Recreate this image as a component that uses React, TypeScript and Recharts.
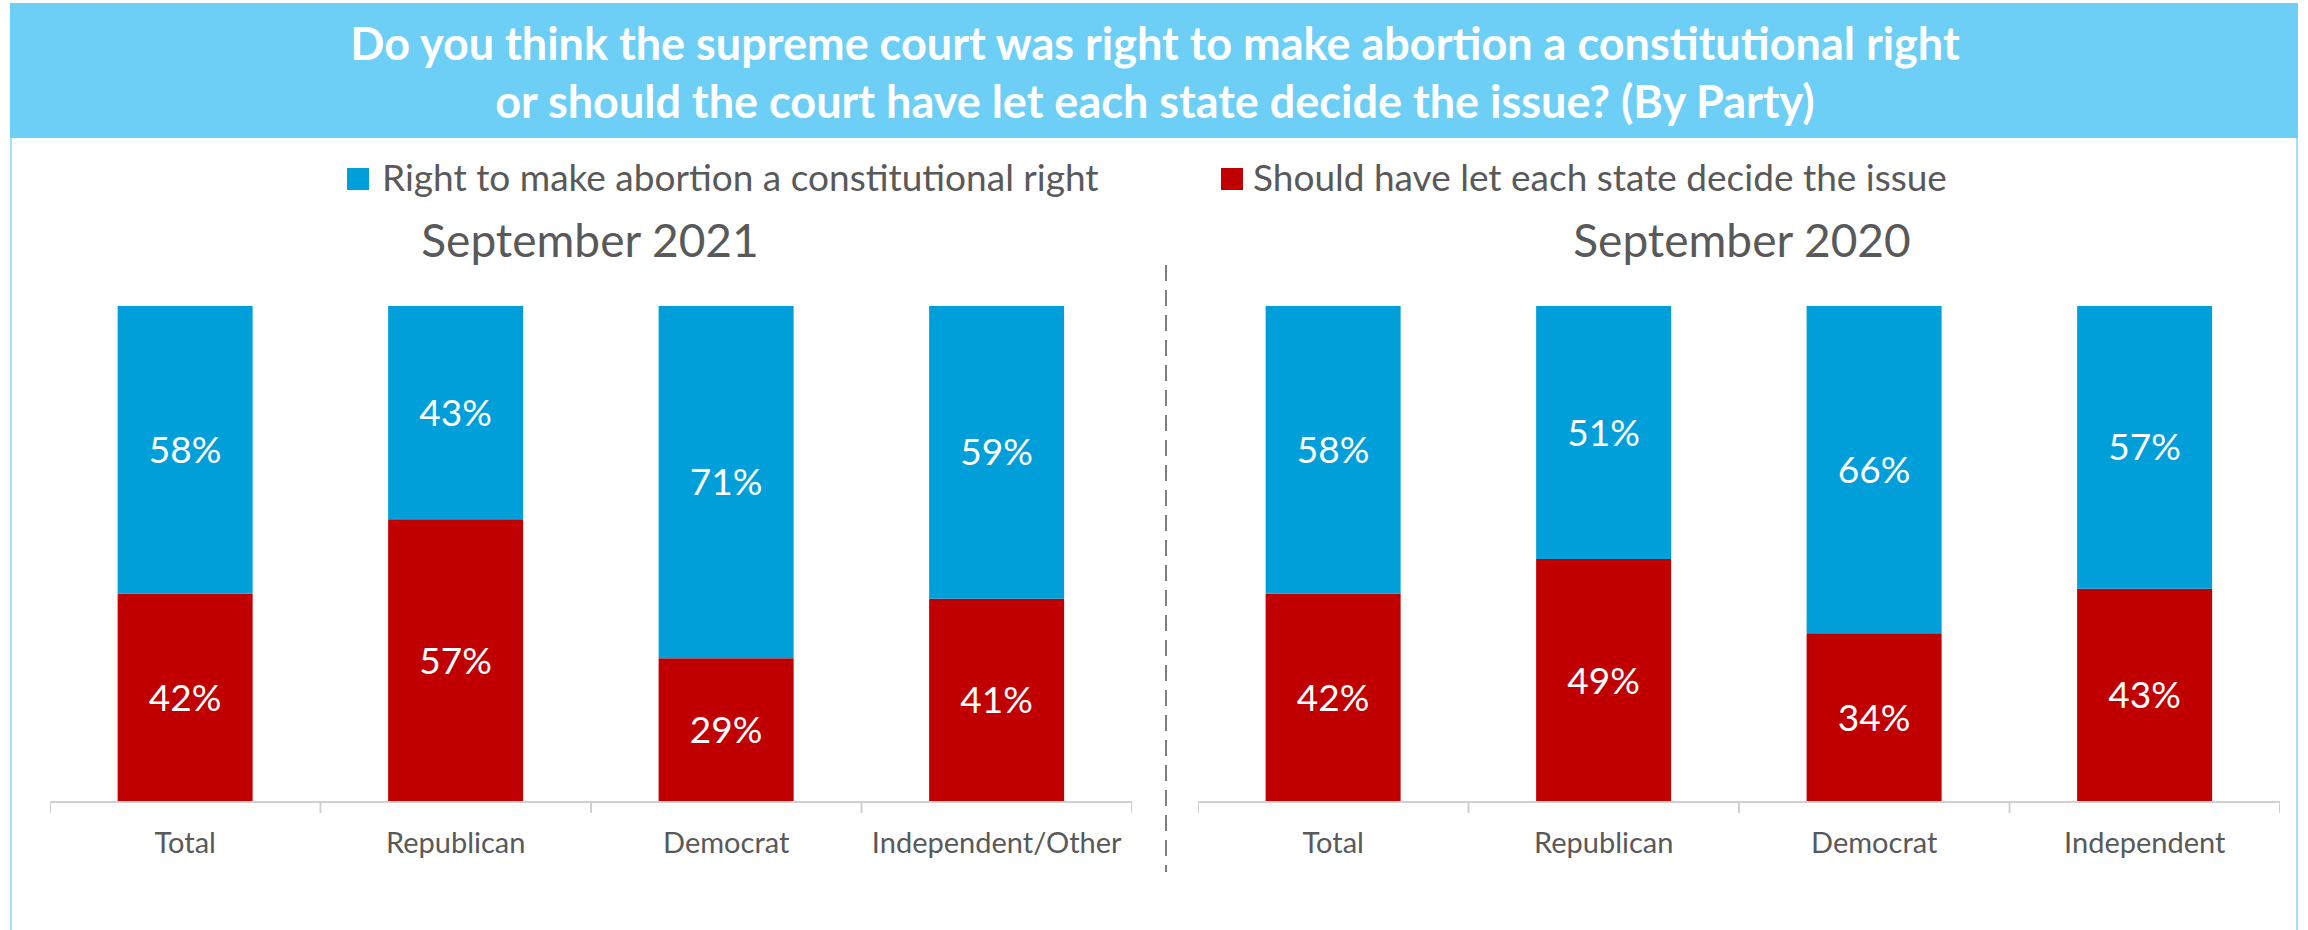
import { BarChart, Bar, XAxis, YAxis, LabelList } from "recharts";

const categories2021 = ["Total", "Republican", "Democrat", "Independent/Other"];
const right2021 = [58, 43, 71, 59];
const state2021 = [42, 57, 29, 41];

const categories2020 = ["Total", "Republican", "Democrat", "Independent"];
const right2020 = [58, 51, 66, 57];
const state2020 = [42, 49, 34, 43];

const titleLines = [
  "Do you think the supreme court was right to make abortion a constitutional right",
  "or should the court have let each state decide the issue? (By Party)",
];
const seriesNames = ["Right to make abortion a constitutional right", "Should have let each state decide the issue"];
const panelTitles = ["September 2021", "September 2020"];

const BLUE = "#009FD9";
const RED = "#C00000";
const GREY_TEXT = "#595959";
const FONT = "Lato, 'Open Sans', sans-serif";

const build = (cats: string[], right: number[], state: number[]) =>
  cats.map((name, i) => ({ name, right: right[i], state: state[i] }));

const data2021 = build(categories2021, right2021, state2021);
const data2020 = build(categories2020, right2020, state2020);

const PLOT_W = 1082;
const PLOT_H = 496;

function CatTick(props: any) {
  const { x, y, payload, index, count } = props;
  const band = PLOT_W / count;
  return (
    <g>
      <line x1={x - band / 2} x2={x - band / 2} y1={y} y2={y + 11} stroke="#D0D0D0" strokeWidth={2} />
      {index === count - 1 && (
        <line x1={x + band / 2} x2={x + band / 2} y1={y} y2={y + 11} stroke="#D0D0D0" strokeWidth={2} />
      )}
      <text x={x} y={y + 51} textAnchor="middle" fill={GREY_TEXT} fontSize={29} fontFamily={FONT}>
        {payload.value}
      </text>
    </g>
  );
}

function Panel({ data, left }: { data: any[]; left: number }) {
  return (
    <div style={{ position: "absolute", left, top: 306 }}>
      <BarChart width={PLOT_W} height={PLOT_H + 60} data={data} margin={{ top: 0, right: 0, bottom: 0, left: 0 }} barCategoryGap="25%">
        <YAxis hide domain={[0, 100]} />
        <XAxis
          dataKey="name"
          height={60}
          tickSize={0}
          tickMargin={0}
          tickLine={false}
          axisLine={{ stroke: "#D0D0D0", strokeWidth: 2 }}
          interval={0}
          tick={<CatTick count={data.length} />}
        />
        <Bar dataKey="state" stackId="a" fill={RED} isAnimationActive={false}>
          <LabelList dataKey="state" position="center" fill="#fff" fontSize={37} fontFamily={FONT} formatter={(v: any) => `${v}%`} />
        </Bar>
        <Bar dataKey="right" stackId="a" fill={BLUE} isAnimationActive={false}>
          <LabelList dataKey="right" position="center" fill="#fff" fontSize={37} fontFamily={FONT} formatter={(v: any) => `${v}%`} />
        </Bar>
      </BarChart>
    </div>
  );
}

export default function App() {
  return (
    <div style={{ position: "absolute", left: 0, top: 0, width: 2308, height: 930, background: "#fff", fontFamily: FONT }}>
      <svg width={2308} height={930} style={{ position: "absolute", left: 0, top: 0 }}>
        <rect x={10} y={3} width={2288} height={135} fill="#6DCFF6" />
        <line x1={11} x2={11} y1={138} y2={930} stroke="#A8DEF3" strokeWidth={2} />
        <line x1={2297} x2={2297} y1={138} y2={930} stroke="#A8DEF3" strokeWidth={2} />
        {titleLines.map((t, i) => (
          <text key={i} x={1155} y={60 + i * 58} textAnchor="middle" fill="#fff" fontSize={45} fontWeight={700} fontFamily={FONT}>
            {t}
          </text>
        ))}
        <rect x={347} y={168} width={22} height={22} fill={BLUE} />
        <text x={382} y={191} fill={GREY_TEXT} fontSize={37} fontFamily={FONT}>
          {seriesNames[0]}
        </text>
        <rect x={1221} y={168} width={22} height={22} fill={RED} />
        <text x={1253} y={191} fill={GREY_TEXT} fontSize={37} fontFamily={FONT}>
          {seriesNames[1]}
        </text>
        <text x={590} y={257} textAnchor="middle" fill={GREY_TEXT} fontSize={46} fontFamily={FONT}>
          {panelTitles[0]}
        </text>
        <text x={1742} y={257} textAnchor="middle" fill={GREY_TEXT} fontSize={46} fontFamily={FONT}>
          {panelTitles[1]}
        </text>
        <line x1={1166} x2={1166} y1={265} y2={872} stroke="#7F7F7F" strokeWidth={2} strokeDasharray="16 9" />
      </svg>
      <Panel data={data2021} left={50} />
      <Panel data={data2020} left={1198} />
    </div>
  );
}
